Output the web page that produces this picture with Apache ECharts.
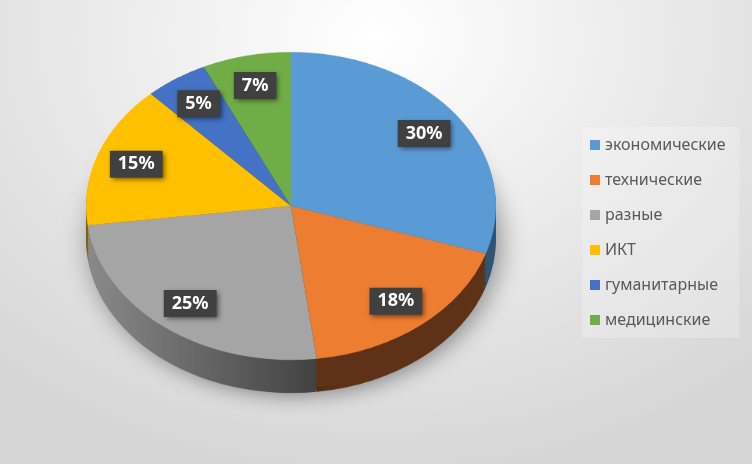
<!DOCTYPE html>
<html><head><meta charset="utf-8">
<script src="https://cdn.jsdelivr.net/npm/echarts@6/dist/echarts.min.js"></script>
<style>
html,body{margin:0;padding:0;}
#wrap{position:relative;width:752px;height:464px;overflow:hidden;
 background:radial-gradient(ellipse 75% 95% at 50% 8%, #ffffff 0%, #eeeeee 40%, #d6d6d6 100%);}
#pie{position:absolute;left:0;top:0;width:752px;height:618px;transform:scaleY(0.751);transform-origin:0 0;}
#top{position:absolute;left:0;top:0;width:752px;height:464px;}
</style></head>
<body><div id="wrap"><div id="pie"></div><div id="top"></div></div>
<script>
const categories = ['экономические','технические','разные','ИКТ','гуманитарные','медицинские'];
const values = [30, 18, 25, 15, 5, 7];

const topColors = ['#5b9bd5','#ed7d31','#a5a5a5','#ffc000','#4472c4','#70ad47'];
const sideColors = ['#2f5577','#5e3216',
  new echarts.graphic.LinearGradient(0,0,1,0,[{offset:0,color:'#8a8a8a'},{offset:1,color:'#424242'}]),
  '#806000','#243b66','#3b5a26'];

const S = 0.751;          // vertical squash of the pie plate
const CX = 291, CY = 206, R = 205;
const cyA = CY / S;
const depthOffsets = [44, 38, 32, 26, 20, 14, 8, 3];

const dataWith = (cols) => categories.map((n,i)=>({name:n, value:values[i], itemStyle:{color:cols[i]}}));

const pieSeries = [];
depthOffsets.forEach((off, k) => {
  pieSeries.push({
    type:'pie', silent:true, animation:false, startAngle:90, clockwise:true,
    center:[CX, cyA + off], radius:[0, R],
    label:{show:false}, labelLine:{show:false},
    itemStyle: k === 0 ? {shadowBlur:26, shadowColor:'rgba(0,0,0,0.4)', shadowOffsetX:4, shadowOffsetY:4} : {},
    emphasis:{disabled:true},
    data: dataWith(sideColors)
  });
});
pieSeries.push({
  type:'pie', silent:true, animation:false, startAngle:90, clockwise:true,
  center:[CX, cyA], radius:[0, R],
  label:{show:false}, labelLine:{show:false}, emphasis:{disabled:true},
  data: dataWith(topColors)
});

const chartA = echarts.init(document.getElementById('pie'), null, {renderer:'canvas'});
chartA.setOption({animation:false, series: pieSeries});

const chartB = echarts.init(document.getElementById('top'), null, {renderer:'canvas'});
chartB.setOption({
  animation:false,
  legend:{
    orient:'vertical', left:582, top:127,
    itemWidth:10, itemHeight:10, itemGap:19,
    padding:[10,14,10,8],
    backgroundColor:'rgba(255,255,255,0.22)',
    icon:'rect',
    textStyle:{color:'#595959', fontSize:16, fontFamily:'Noto Sans'},
    selectedMode:false,
    data: categories.map((n,i)=>({name:n, itemStyle:{color:topColors[i]}}))
  },
  series:[{
    type:'pie', silent:true, startAngle:90, clockwise:true,
    center:[CX, CY], radius:[118, R],
    itemStyle:{color:'rgba(0,0,0,0)'},
    emphasis:{disabled:true},
    labelLine:{show:false},
    label:{
      show:true, position:'inside', formatter:'{c}%',
      color:'#ffffff', fontWeight:'bold', fontSize:18, fontFamily:'Noto Sans',
      backgroundColor:'#404040', padding:[5,8,4,8],
      shadowColor:'rgba(0,0,0,0.55)', shadowBlur:5, shadowOffsetX:2, shadowOffsetY:2
    },
    labelLayout: function(p){
      const r = p.labelRect;
      const x = r.x + r.width/2, y = r.y + r.height/2;
      return {x: x, y: CY + (y - CY) * S};
    },
    data: categories.map((n,i)=>({name:n, value:values[i]}))
  }]
});
</script></body></html>
